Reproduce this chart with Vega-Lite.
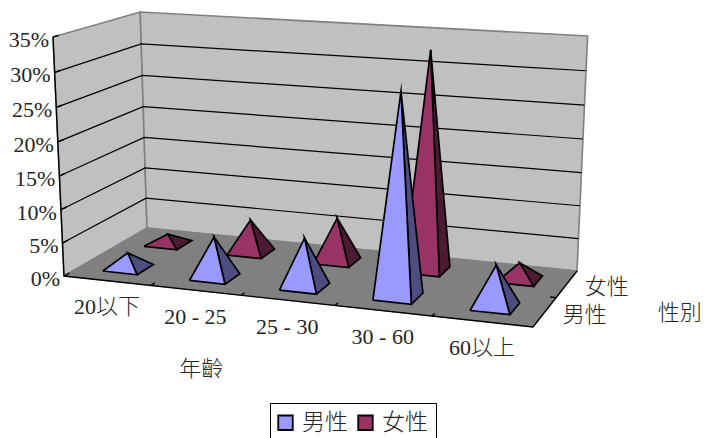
{
"$schema":"https://vega.github.io/schema/vega-lite/v6.json",
"width":706,"height":438,"padding":0,"autosize":{"type":"none"},"background":"white",
"view":{"stroke":null},
"config":{"text":{"font":"Liberation Serif, Noto Sans CJK TC","fontSize":22,"fontWeight":300,"color":"#262626"}},
"data":{"values":[
{"類":"牆","id":"左","序":0,"u":0,"v":0,"比例":0},{"類":"牆","id":"左","序":1,"u":0,"v":2,"比例":0},{"類":"牆","id":"左","序":2,"u":0,"v":2,"比例":0.35},{"類":"牆","id":"左","序":3,"u":0,"v":0,"比例":0.35},{"類":"牆","id":"左","序":4,"u":0,"v":0,"比例":0},
{"類":"牆","id":"後","序":0,"u":0,"v":2,"比例":0},{"類":"牆","id":"後","序":1,"u":5,"v":2,"比例":0},{"類":"牆","id":"後","序":2,"u":5,"v":2,"比例":0.35},{"類":"牆","id":"後","序":3,"u":0,"v":2,"比例":0.35},{"類":"牆","id":"後","序":4,"u":0,"v":2,"比例":0},
{"類":"地","id":"地","序":0,"u":0,"v":0,"比例":0},{"類":"地","id":"地","序":1,"u":5,"v":0,"比例":0},{"類":"地","id":"地","序":2,"u":5,"v":2,"比例":0},{"類":"地","id":"地","序":3,"u":0,"v":2,"比例":0},{"類":"地","id":"地","序":4,"u":0,"v":0,"比例":0},
{"類":"線","id":"g5","序":0,"u":0,"v":0,"比例":0.05},{"類":"線","id":"g5","序":1,"u":0,"v":2,"比例":0.05},{"類":"線","id":"g5","序":2,"u":5,"v":2,"比例":0.05},
{"類":"線","id":"g10","序":0,"u":0,"v":0,"比例":0.10},{"類":"線","id":"g10","序":1,"u":0,"v":2,"比例":0.10},{"類":"線","id":"g10","序":2,"u":5,"v":2,"比例":0.10},
{"類":"線","id":"g15","序":0,"u":0,"v":0,"比例":0.15},{"類":"線","id":"g15","序":1,"u":0,"v":2,"比例":0.15},{"類":"線","id":"g15","序":2,"u":5,"v":2,"比例":0.15},
{"類":"線","id":"g20","序":0,"u":0,"v":0,"比例":0.20},{"類":"線","id":"g20","序":1,"u":0,"v":2,"比例":0.20},{"類":"線","id":"g20","序":2,"u":5,"v":2,"比例":0.20},
{"類":"線","id":"g25","序":0,"u":0,"v":0,"比例":0.25},{"類":"線","id":"g25","序":1,"u":0,"v":2,"比例":0.25},{"類":"線","id":"g25","序":2,"u":5,"v":2,"比例":0.25},
{"類":"線","id":"g30","序":0,"u":0,"v":0,"比例":0.30},{"類":"線","id":"g30","序":1,"u":0,"v":2,"比例":0.30},{"類":"線","id":"g30","序":2,"u":5,"v":2,"比例":0.30},
{"類":"軸","id":"a1","序":0,"u":0,"v":0,"比例":0.35},{"類":"軸","id":"a1","序":1,"u":0,"v":0,"比例":0},{"類":"軸","id":"a1","序":2,"u":5,"v":0,"比例":0},{"類":"軸","id":"a1","序":3,"u":5,"v":2,"比例":0},
{"類":"軸","id":"t0","序":0,"u":0,"v":0,"比例":0},{"類":"軸","id":"t0","序":1,"u":0,"v":0.12,"比例":0},
{"類":"軸","id":"t5","序":0,"u":0,"v":0,"比例":0.05},{"類":"軸","id":"t5","序":1,"u":0,"v":0.12,"比例":0.05},
{"類":"軸","id":"t10","序":0,"u":0,"v":0,"比例":0.10},{"類":"軸","id":"t10","序":1,"u":0,"v":0.12,"比例":0.10},
{"類":"軸","id":"t15","序":0,"u":0,"v":0,"比例":0.15},{"類":"軸","id":"t15","序":1,"u":0,"v":0.12,"比例":0.15},
{"類":"軸","id":"t20","序":0,"u":0,"v":0,"比例":0.20},{"類":"軸","id":"t20","序":1,"u":0,"v":0.12,"比例":0.20},
{"類":"軸","id":"t25","序":0,"u":0,"v":0,"比例":0.25},{"類":"軸","id":"t25","序":1,"u":0,"v":0.12,"比例":0.25},
{"類":"軸","id":"t30","序":0,"u":0,"v":0,"比例":0.30},{"類":"軸","id":"t30","序":1,"u":0,"v":0.12,"比例":0.30},
{"類":"軸","id":"t35","序":0,"u":0,"v":0,"比例":0.35},{"類":"軸","id":"t35","序":1,"u":0,"v":0.12,"比例":0.35},
{"類":"軸","id":"c1","序":0,"u":1,"v":0,"比例":0},{"類":"軸","id":"c1","序":1,"u":1,"v":0.1,"比例":0},
{"類":"軸","id":"c2","序":0,"u":2,"v":0,"比例":0},{"類":"軸","id":"c2","序":1,"u":2,"v":0.1,"比例":0},
{"類":"軸","id":"c3","序":0,"u":3,"v":0,"比例":0},{"類":"軸","id":"c3","序":1,"u":3,"v":0.1,"比例":0},
{"類":"軸","id":"c4","序":0,"u":4,"v":0,"比例":0},{"類":"軸","id":"c4","序":1,"u":4,"v":0.1,"比例":0},
{"類":"軸","id":"d1","序":0,"u":4.94,"v":1,"比例":0},{"類":"軸","id":"d1","序":1,"u":5,"v":1,"比例":0},
{"類":"值標","文字":"0%","u":0,"v":0,"比例":0},{"類":"值標","文字":"5%","u":0,"v":0,"比例":0.05},{"類":"值標","文字":"10%","u":0,"v":0,"比例":0.10},{"類":"值標","文字":"15%","u":0,"v":0,"比例":0.15},{"類":"值標","文字":"20%","u":0,"v":0,"比例":0.20},{"類":"值標","文字":"25%","u":0,"v":0,"比例":0.25},{"類":"值標","文字":"30%","u":0,"v":0,"比例":0.30},{"類":"值標","文字":"35%","u":0,"v":0,"比例":0.35},
{"類":"類標","文字":"20以下","u":0.5,"v":0,"比例":0},{"類":"類標","文字":"20 - 25","u":1.5,"v":0,"比例":0},{"類":"類標","文字":"25 - 30","u":2.5,"v":0,"比例":0},{"類":"類標","文字":"30 - 60","u":3.5,"v":0,"比例":0},{"類":"類標","文字":"60以上","u":4.5,"v":0,"比例":0},
{"類":"系標","文字":"男性","u":5,"v":0.5,"比例":0},{"類":"系標","文字":"女性","u":5,"v":1.5,"比例":0},
{"類":"題","文字":"年齡","u":2.49,"v":-2.126,"比例":0},{"類":"題","文字":"性別","u":6.237,"v":0.952,"比例":0}
]},
"transform":[
{"calculate":"datum.u/5","as":"up"},{"calculate":"datum.v/2","as":"vp"},{"calculate":"datum['比例']/0.35","as":"zp"},
{"calculate":"1-0.06788*datum.up+0.09764*datum.vp-0.041*datum.zp","as":"w"},
{"calculate":"(432.82*datum.up+97.35*datum.vp+64-13.17*datum.zp)/datum.w-12*datum.up*(1-datum.up)","as":"sx"},
{"calculate":"(28.8*datum.up-25.74*datum.vp+276-240.5*datum.zp)/datum.w+datum.zp*datum.vp*(2.8-5.8*datum.up)","as":"sy"}
],
"encoding":{
"x":{"field":"sx","type":"quantitative","scale":{"domain":[0,706],"nice":false,"zero":false},"axis":null},
"y":{"field":"sy","type":"quantitative","scale":{"domain":[438,0],"nice":false,"zero":false},"axis":null}
},
"layer":[
{"transform":[{"filter":"datum['類']=='牆'"}],"mark":{"type":"line","fill":"#C0C0C0","stroke":"#808080","strokeWidth":1.6},"encoding":{"detail":{"field":"id"},"order":{"field":"序","type":"quantitative"}}},
{"transform":[{"filter":"datum['類']=='地'"}],"mark":{"type":"line","fill":"#808080","stroke":"#808080","strokeWidth":1},"encoding":{"detail":{"field":"id"},"order":{"field":"序","type":"quantitative"}}},
{"transform":[{"filter":"datum['類']=='線'"}],"mark":{"type":"line","stroke":"#000000","strokeWidth":1.2},"encoding":{"detail":{"field":"id"},"order":{"field":"序","type":"quantitative"}}},
{"transform":[{"filter":"datum['類']=='軸'"}],"mark":{"type":"line","stroke":"#000000","strokeWidth":1.4},"encoding":{"detail":{"field":"id"},"order":{"field":"序","type":"quantitative"}}},
{"data":{"values":[
{"年齡":"20以下","性別":"女性","比例":0.015},{"年齡":"20 - 25","性別":"女性","比例":0.051},{"年齡":"25 - 30","性別":"女性","比例":0.067},{"年齡":"30 - 60","性別":"女性","比例":0.33},{"年齡":"60以上","性別":"女性","比例":0.025},
{"年齡":"20以下","性別":"男性","比例":0.023},{"年齡":"20 - 25","性別":"男性","比例":0.061},{"年齡":"25 - 30","性別":"男性","比例":0.073},{"年齡":"30 - 60","性別":"男性","比例":0.296},{"年齡":"60以上","性別":"男性","比例":0.061}
]},
"transform":[
{"calculate":"[{f:'側',o:0,du:0.2,dv:-0.2,h:0},{f:'側',o:1,du:0.2,dv:0.2,h:0},{f:'側',o:2,du:0,dv:0,h:1},{f:'側',o:3,du:0.2,dv:-0.2,h:0},{f:'前',o:0,du:-0.2,dv:-0.2,h:0},{f:'前',o:1,du:0.2,dv:-0.2,h:0},{f:'前',o:2,du:0,dv:0,h:1},{f:'前',o:3,du:-0.2,dv:-0.2,h:0}]","as":"verts"},
{"flatten":["verts"]},
{"calculate":"(indexof(['20以下','20 - 25','25 - 30','30 - 60','60以上'],datum['年齡'])+0.5+datum.verts.du)/5","as":"up"},
{"calculate":"((datum['性別']=='男性'?0.5:1.5)+datum.verts.dv)/2","as":"vp"},
{"calculate":"datum.verts.h*datum['比例']/0.35","as":"zp"},
{"calculate":"1-0.06788*datum.up+0.09764*datum.vp-0.041*datum.zp","as":"w"},
{"calculate":"(432.82*datum.up+97.35*datum.vp+64-13.17*datum.zp)/datum.w-12*datum.up*(1-datum.up)","as":"sx"},
{"calculate":"(28.8*datum.up-25.74*datum.vp+276-240.5*datum.zp)/datum.w+datum.zp*datum.vp*(2.8-5.8*datum.up)","as":"sy"},
{"calculate":"datum['年齡']+datum['性別']+datum.verts.f","as":"id"},
{"calculate":"datum.verts.o","as":"序"},
{"calculate":"datum.verts.f=='前'?datum['性別']:datum['性別']+'暗'","as":"系列"}
],
"mark":{"type":"line","stroke":"#000000","strokeWidth":1.7,"strokeJoin":"miter","strokeMiterLimit":12},
"encoding":{
"detail":{"field":"id"},
"order":{"field":"序","type":"quantitative"},
"fill":{"field":"系列","type":"nominal","scale":{"domain":["男性","女性","男性暗","女性暗"],"range":["#9999FF","#993366","#4D4D80","#4D1A33"]},
"legend":{"title":null,"values":["男性","女性"],"orient":"none","legendX":270,"legendY":403,"direction":"horizontal","symbolType":"square","symbolSize":210,"symbolStrokeColor":"#000000","symbolStrokeWidth":1.8,"symbolOffset":-4,"labelFont":"Liberation Serif, Noto Sans CJK TC","labelFontSize":23,"labelFontWeight":300,"labelColor":"#262626","strokeColor":"#000000","padding":8,"columnPadding":6,"labelOffset":5}}
}},
{"transform":[{"filter":"datum['類']=='值標'"}],"mark":{"type":"text","align":"right","baseline":"middle","dx":-4,"dy":3},"encoding":{"text":{"field":"文字"}}},
{"transform":[{"filter":"datum['類']=='類標'"}],"mark":{"type":"text","align":"center","baseline":"middle","dx":0,"dy":26},"encoding":{"text":{"field":"文字"}}},
{"transform":[{"filter":"datum['類']=='系標'"}],"mark":{"type":"text","align":"left","baseline":"middle","dx":18,"dy":3},"encoding":{"text":{"field":"文字"}}},
{"transform":[{"filter":"datum['類']=='題'"}],"mark":{"type":"text","align":"center","baseline":"middle","dy":1},"encoding":{"text":{"field":"文字"}}}
]
}
